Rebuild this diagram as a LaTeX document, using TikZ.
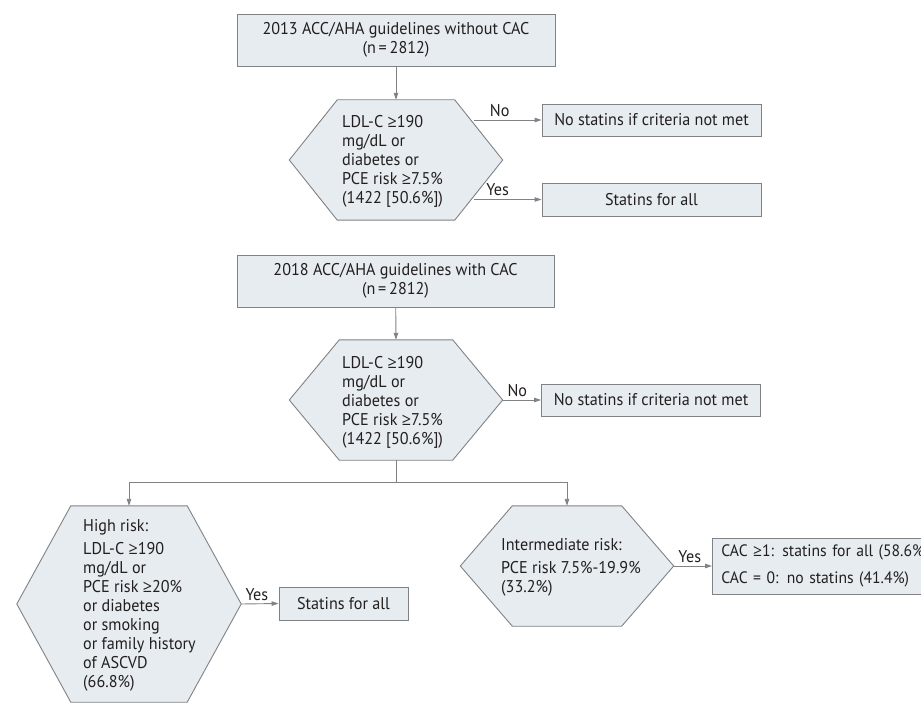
\documentclass[tikz,border=0pt]{standalone}
\usepackage{fontspec}
\setmainfont{PT Sans}[FakeStretch=0.95]
\newfontfamily\symfont{Open Sans}[FakeStretch=0.95]
\newcommand\gesym{{\symfont ≥}}
\usetikzlibrary{arrows.meta,backgrounds,calc}
\definecolor{boxfill}{HTML}{E6ECF0}
\definecolor{linegray}{HTML}{808285}
\definecolor{txt}{HTML}{231F20}
\tikzset{
  every node/.style={text=txt,font=\fontsize{17}{19}\selectfont},
  boxnode/.style={draw=linegray,fill=boxfill,line width=0.9pt,inner sep=0pt,align=center},
  hexnode/.style={inner sep=0pt},
  hextext/.style={inner sep=0pt,align=left,anchor=west},
  hexline/.style={draw=linegray,fill=boxfill,line width=0.9pt},
  conn/.style={draw=linegray,line width=0.9pt},
  arr/.style={conn,-{Triangle[length=7pt,width=4.5pt]}},
  lbl/.style={inner sep=3pt,above}
}
\newcommand\hexpath[2]{%
  \path[hexline] (#1.west) -- ([xshift=#2]#1.north west) -- ([xshift=-#2]#1.north east)
    -- (#1.east) -- ([xshift=-#2]#1.south east) -- ([xshift=#2]#1.south west) -- cycle;}
\begin{document}
\begin{tikzpicture}[x=1pt,y=-1pt]
\useasboundingbox (0,0) rectangle (921,719);
% top flow
\node[boxnode,minimum width=318pt,minimum height=52pt] (b1) at (396,40) {2013 ACC/AHA guidelines without CAC\\(n\,=\,2812)};
\node[hexnode,minimum width=213pt,minimum height=120pt] (h1) at (396,160) {};
\node[hextext] (h1t) at (342,161) {LDL-C \gesym190\\mg/dL or\\diabetes or\\PCE risk \gesym7.5\%\\(1422 [50.6\%])};
\node[boxnode,minimum width=219pt,minimum height=32pt] (n1) at (651.5,120) {No statins if criteria not met};
\node[boxnode,minimum width=219pt,minimum height=33pt] (s1) at (651.5,199.5) {Statins for all};
% second flow
\node[boxnode,minimum width=317pt,minimum height=52pt] (b2) at (395.5,281) {2018 ACC/AHA guidelines with CAC\\(n\,=\,2812)};
\node[hexnode,minimum width=213pt,minimum height=120pt] (h2) at (396,400) {};
\node[hextext] (h2t) at (342,402) {LDL-C \gesym190\\mg/dL or\\diabetes or\\PCE risk \gesym7.5\%\\(1422 [50.6\%])};
\node[boxnode,minimum width=219pt,minimum height=32pt] (n2) at (651,400) {No statins if criteria not met};
\node[hexnode,minimum width=224pt,minimum height=196pt] (h3) at (129,604) {};
\node[hextext] (h3t) at (83,605) {High risk:\\[4pt]LDL-C \gesym190\\mg/dL or\\PCE risk \gesym20\%\\or diabetes\\or smoking\\or family history\\of ASCVD\\(66.8\%)};
\node[boxnode,minimum width=129pt,minimum height=33pt] (s3) at (343.5,603.5) {Statins for all};
\node[hexnode,minimum width=213pt,minimum height=120pt] (h4) at (567,566) {};
\node[hextext] (h4t) at (501,567) {Intermediate risk:\\[4pt]PCE risk 7.5\%-19.9\%\\(33.2\%)};
\node[boxnode,minimum width=260pt,minimum height=56pt,anchor=west,align=left,text width=254pt,font=\fontsize{16.5}{19}\selectfont] (c4) at (712,566) {\hspace*{6pt}CAC \gesym1: statins for all (58.6\%)\\[8pt]\hspace*{6pt}CAC = 0: no statins (41.4\%)};
\begin{scope}[on background layer]
\hexpath{h1}{48pt}
\hexpath{h2}{50pt}
\hexpath{h3}{54pt}
\hexpath{h4}{52pt}
\end{scope}
% connectors
\coordinate (h1no) at (474,120);
\coordinate (h1yes) at (474,199.5);
\coordinate (split) at (396,482);
\draw[arr] (b1) -- (h1.north);
\draw[arr] (h1no) -- node[lbl,pos=0.38]{No} (n1.west);
\draw[arr] (h1yes) -- node[lbl,pos=0.35]{Yes} (s1.west);
\draw[arr] (b2) -- (h2.north);
\draw[arr] (h2.east) -- node[lbl,pos=0.38]{No} (n2.west);
\draw[conn] (h2.south) -- (split);
\draw[arr] (split) -| (h3.north);
\draw[arr] (split) -| (h4.north);
\draw[arr] (h3.east) -- node[lbl,pos=0.42]{Yes} (s3.west);
\draw[arr] (h4.east) -- node[lbl,pos=0.42]{Yes} (c4.west);
\end{tikzpicture}
\end{document}
